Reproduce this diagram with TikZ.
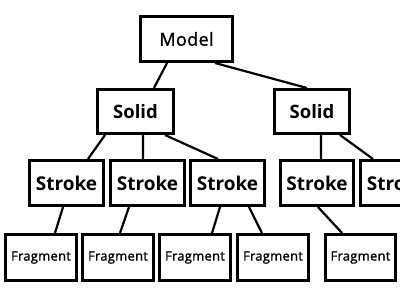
\documentclass[tikz,border=0pt]{standalone}
\usepackage{fontspec}
\setmainfont{Open Sans}
\newfontfamily\medfont[FakeBold=1.2,LetterSpace=2]{Open Sans}
\usetikzlibrary{calc}
\tikzset{
  box/.style={draw, line width=3pt, inner sep=0pt, fill=white},
  bigbox/.style={box, minimum height=45pt},
  fragbox/.style={box, minimum width=71pt, minimum height=46pt, font=\medfont\fontsize{13}{16}\selectfont},
  strokebox/.style={bigbox, minimum width=74pt, font=\bfseries\fontsize{19}{22}\selectfont},
  solidbox/.style={box, minimum height=44pt, font=\bfseries\fontsize{18.5}{22}\selectfont},
  modelbox/.style={bigbox, minimum width=92pt, font=\medfont\fontsize{18}{22}\selectfont},
  conn/.style={line width=2.2pt}
}
\newcommand{\link}[4]{\draw[conn] ($(#1.south west)!#2!(#1.south east)$) -- ($(#3.north west)!#4!(#3.north east)$);}
\begin{document}
\begin{tikzpicture}[x=1pt,y=-1pt]
\useasboundingbox (0,0) rectangle (400,300);
\clip (0,0) rectangle (400,300);
\fill[white] (0,0) rectangle (400,300);
\node[modelbox] (model) at (186.5,39) {Model};
\node[solidbox, minimum width=76pt] (s1) at (135.5,111.5) {Solid};
\node[solidbox, minimum width=75pt] (s2) at (312,111.5) {Solid};
\node[strokebox] (k1) at (66.5,183) {Stroke};
\node[strokebox] (k2) at (147.5,183) {Stroke};
\node[strokebox] (k3) at (227.5,183) {Stroke};
\node[strokebox, minimum width=73pt] (k4) at (317,183) {Stroke};
\node[strokebox] (k5) at (397.5,183) {Stroke};
\node[fragbox] (f1) at (41,257.5) {Fragment};
\node[fragbox] (f2) at (118,257.5) {Fragment};
\node[fragbox] (f3) at (195,257.5) {Fragment};
\node[fragbox] (f4) at (273,257.5) {Fragment};
\node[fragbox, minimum width=70pt] (f5) at (360.5,257.5) {Fragment};
\link{model}{0.295}{s1}{0.734}
\link{model}{0.8}{s2}{0.436}
\link{s1}{0.114}{k1}{0.779}
\link{s1}{0.595}{k2}{0.442}
\link{s1}{0.873}{k3}{0.377}
\link{s2}{0.615}{k4}{0.553}
\link{s2}{0.859}{k5}{0.182}
\link{k1}{0.455}{f1}{0.689}
\link{k2}{0.26}{f2}{0.527}
\link{k3}{0.403}{f3}{0.73}
\link{k3}{0.779}{f4}{0.351}
\link{k4}{0.513}{f5}{0.247}
\end{tikzpicture}
\end{document}
